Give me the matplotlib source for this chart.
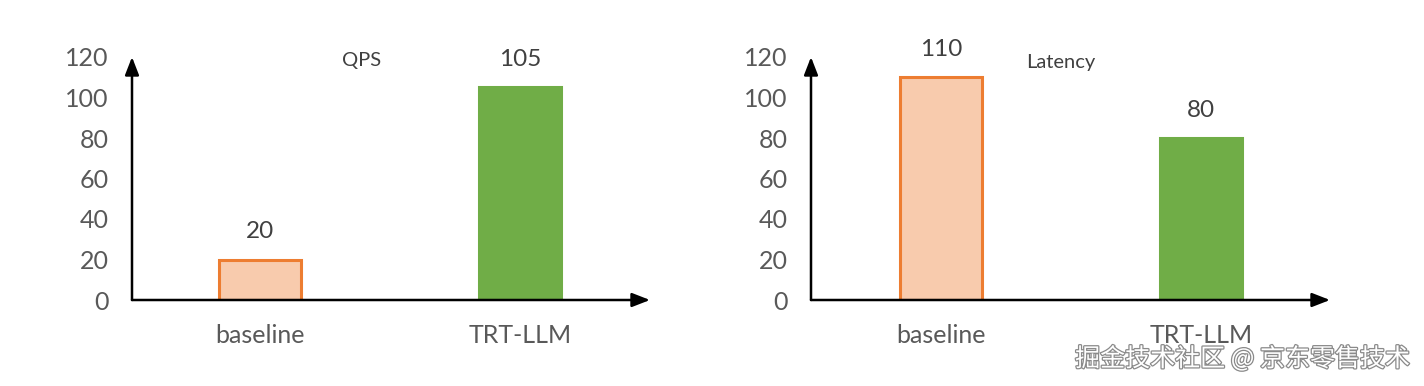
import matplotlib
matplotlib.use("Agg")
import matplotlib.pyplot as plt
import matplotlib.patheffects as pe

plt.rcParams['font.family'] = ['Lato', 'DejaVu Sans']

categories = ["baseline", "TRT-LLM"]
qps_values = [20, 105]
latency_values = [110, 80]
y_ticks = [0, 20, 40, 60, 80, 100, 120]
titles = ["QPS", "Latency"]

W, H = 1424, 386
fig = plt.figure(figsize=(W / 100, H / 100), dpi=100)

fill_colors = ["#F8CBAD", "#70AD47"]
edge_colors = ["#ED7D31", "#70AD47"]
tick_color = "#595959"
text_color = "#404040"

def px_axes(x0, x1, ytop, ybot):
    return fig.add_axes([x0 / W, 1 - ybot / H, (x1 - x0) / W, (ybot - ytop) / H])

panels = [
    (px_axes(132, 650, 57, 300), qps_values, titles[0], (0.39, 118.5), (-0.492, 1.5)),
    (px_axes(811, 1330, 57, 300), latency_values, titles[1], (0.46, 117.5), (-0.5, 1.496)),
]

for ax, vals, title, tpos, xl in panels:
    xs = list(range(len(categories)))
    ax.bar(xs, vals, width=0.315, color=fill_colors, edgecolor=edge_colors, linewidth=2.2)
    ax.set_xlim(*xl)
    ax.set_ylim(0, 120)
    for s in ax.spines.values():
        s.set_visible(False)
    ax.set_yticks(y_ticks)
    ax.set_yticklabels([str(t) for t in y_ticks], fontsize=18, color=tick_color)
    ax.set_xticks(xs)
    ax.set_xticklabels(categories, fontsize=18, color=tick_color)
    ax.tick_params(axis='y', length=0, pad=17)
    ax.tick_params(axis='x', length=0, pad=17.5)
    ax.patch.set_alpha(0)
    for x, v in zip(xs, vals):
        ax.annotate(str(v), (x, v), xytext=(0, 20), textcoords='offset points',
                    ha='center', va='center', fontsize=17.5, color=text_color)
    ax.text(tpos[0], tpos[1], title, ha='center', va='center', fontsize=14.5, color=text_color)
    arrow = dict(arrowstyle='-|>,head_length=0.9,head_width=0.35', color='black', lw=1.8,
                 shrinkA=0, shrinkB=0, mutation_scale=12)
    ax.annotate('', xy=(0, 1.0), xytext=(0, 0), xycoords='axes fraction',
                textcoords='axes fraction', arrowprops=arrow, annotation_clip=False)
    ax.annotate('', xy=(1.0, 0), xytext=(0, 0), xycoords='axes fraction',
                textcoords='axes fraction', arrowprops=arrow, annotation_clip=False)

fig.text(1410 / W, 1 - 359 / H, "掘金技术社区 @ 京东零售技术", ha='right', va='center',
         fontsize=18, color='white', family=['Noto Sans CJK SC', 'DejaVu Sans'],
         path_effects=[pe.withStroke(linewidth=1.8, foreground='#8a8a8a')])

fig.savefig("out.png", dpi=100, facecolor='white')
